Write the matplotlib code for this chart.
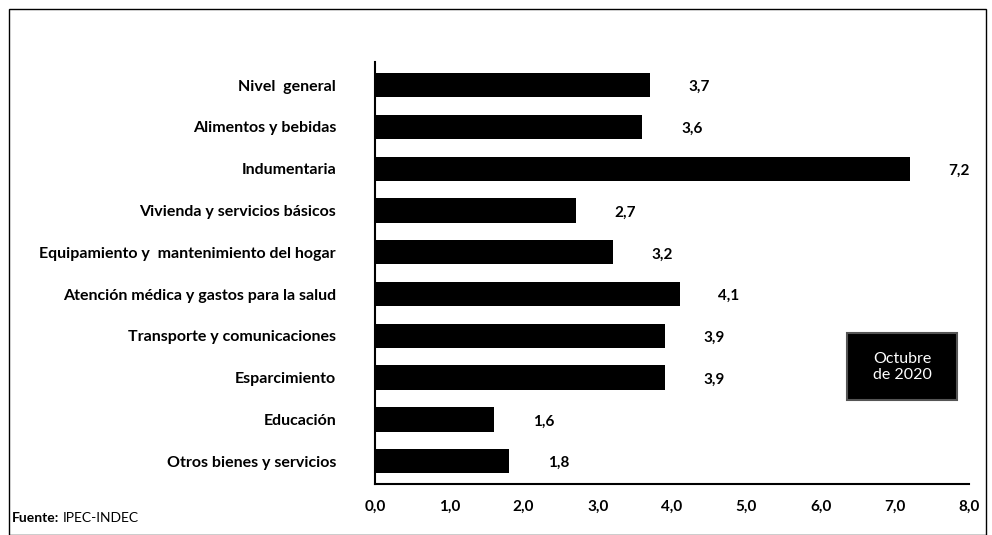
import matplotlib.pyplot as plt
from matplotlib.patches import Rectangle

# Datos (variación porcentual, octubre 2020)
categorias = ["Nivel  general", "Alimentos y bebidas", "Indumentaria",
              "Vivienda y servicios básicos",
              "Equipamiento y  mantenimiento del hogar",
              "Atención médica y gastos para la salud",
              "Transporte y comunicaciones", "Esparcimiento", "Educación",
              "Otros bienes y servicios"]
valores = [3.7, 3.6, 7.2, 2.7, 3.2, 4.1, 3.9, 3.9, 1.6, 1.8]
ticks_x = [0, 1, 2, 3, 4, 5, 6, 7, 8]

plt.rcParams['font.family'] = ['Lato', 'DejaVu Sans']

fig = plt.figure(figsize=(9.92, 5.35), dpi=100)
ax = fig.add_axes([0.378, 0.095, 0.599, 0.789])

y = list(range(len(categorias)))
ax.barh(y, valores, height=0.58, color="black")
ax.set_ylim(9.55, -0.55)
ax.set_xlim(0, 8)

ax.set_yticks(y)
ax.set_yticklabels(categorias, fontsize=11.5, fontweight="bold")
ax.set_xticks(ticks_x)
ax.set_xticklabels([f"{t:.1f}".replace(".", ",") for t in ticks_x],
                   fontsize=11, fontweight="bold")
ax.tick_params(axis="y", length=0, pad=28)
ax.tick_params(axis="x", length=0, pad=11)

for s in ["top", "right"]:
    ax.spines[s].set_visible(False)
ax.spines["left"].set_linewidth(1.5)
ax.spines["bottom"].set_linewidth(1.5)

for yi, v in zip(y, valores):
    ax.annotate(f"{v:.1f}".replace(".", ","), (v, yi), xytext=(28, -1.5),
                textcoords="offset points", ha="left", va="center",
                fontsize=11, fontweight="bold")

# recuadro "Octubre de 2020"
fig.patches.append(Rectangle((847 / 992, 1 - 400 / 535), 110 / 992, 67 / 535,
                             transform=fig.transFigure, facecolor="black",
                             edgecolor="#555555", linewidth=1.5))
fig.text(902 / 992, 1 - 367 / 535, "Octubre\nde 2020", color="white",
         ha="center", va="center", fontsize=11.5, linespacing=1.25)

# fuente
t1 = fig.text(12 / 992, 1 - 518 / 535, "Fuente:", fontsize=10, fontweight="bold",
              va="center")
fig.canvas.draw()
bb = t1.get_window_extent()
fig.text(bb.x1 / 992 + 3 / 992, 1 - 518 / 535, "IPEC-INDEC", fontsize=10,
         va="center")

# marco exterior
fig.patches.append(Rectangle((9 / 992, 0.0), 977 / 992, 1 - 9 / 535,
                             transform=fig.transFigure, fill=False,
                             edgecolor="black", linewidth=1))

fig.savefig("out.png", dpi=100)
